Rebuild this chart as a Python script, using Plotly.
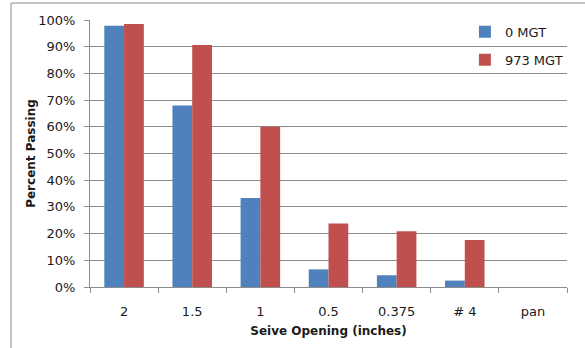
import plotly.graph_objects as go

# Sieve sizes and cumulative percent passing for each tonnage
sieves = ["2", "1.5", "1", "0.5", "0.375", "# 4", "pan"]
passing_0_mgt = [0.978, 0.68, 0.333, 0.066, 0.044, 0.024, 0.0]
passing_973_mgt = [0.985, 0.906, 0.60, 0.238, 0.209, 0.176, 0.0]
y_ticks = [0, 0.1, 0.2, 0.3, 0.4, 0.5, 0.6, 0.7, 0.8, 0.9, 1.0]

FONT = "DejaVu Sans"
GRID = "#8c8c8c"

fig = go.Figure()
fig.add_trace(go.Bar(
    x=sieves, y=passing_0_mgt, name="0 MGT",
    marker=dict(color="#4F81BD", line=dict(width=0)),
    legendgroup="a",
))
fig.add_trace(go.Bar(
    x=sieves, y=passing_973_mgt, name="973 MGT",
    marker=dict(color="#C0504D", line=dict(width=0)),
    legendgroup="b",
))

fig.update_layout(
    width=585, height=348,
    margin=dict(l=90, r=18, t=20, b=61),
    paper_bgcolor="white", plot_bgcolor="white",
    barmode="group", bargap=0.42, bargroupgap=0,
    font=dict(family=FONT, size=13, color="#1a1a1a"),
    legend=dict(
        x=0.786, y=1.012, xanchor="left", yanchor="top",
        bgcolor="rgba(0,0,0,0)", font=dict(family=FONT, size=13),
        traceorder="grouped", tracegroupgap=8, itemwidth=30,
    ),
    xaxis=dict(
        type="category", tickson="boundaries", ticks="outside", ticklen=5,
        tickcolor=GRID, showline=True, linecolor=GRID, linewidth=1,
        showgrid=False, tickfont=dict(family=FONT, size=13),
        ticklabelstandoff=12,
        title=dict(text="<b>Seive Opening (inches)</b>", standoff=9,
                   font=dict(family=FONT, size=12)),
    ),
    yaxis=dict(
        range=[0, 1.0], tickvals=y_ticks, tickformat=".0%",
        ticks="outside", ticklen=5, tickcolor=GRID,
        showline=True, linecolor=GRID, linewidth=1,
        showgrid=True, gridcolor=GRID, gridwidth=1,
        tickfont=dict(family=FONT, size=13), zeroline=False,
        ticklabelstandoff=6,
        title=dict(text="<b>Percent Passing</b>", standoff=0,
                   font=dict(family=FONT, size=12)),
    ),
    shapes=[dict(
        type="rect", xref="paper", yref="paper",
        x0=-79 / 477, x1=1 + 40 / 477, y0=-64 / 267, y1=1 + 17 / 267,
        line=dict(color="#8c8c8c", width=1),
    )],
)

fig.write_html("out.html")
